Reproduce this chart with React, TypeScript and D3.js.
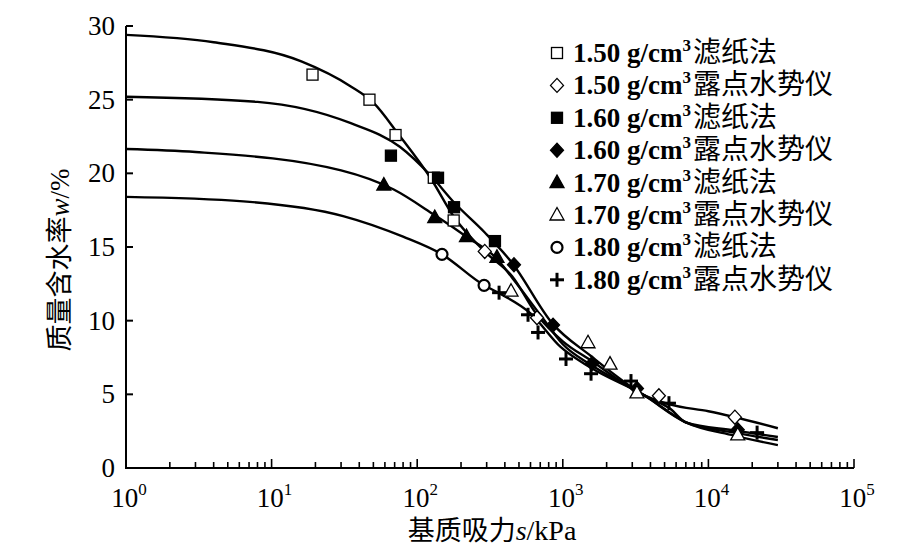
import React from 'react';
import * as d3 from 'd3';

// 拟合曲线 [s (kPa), w (%)]
const fit150: [number, number][] = [[1, 29.4], [4, 28.9], [16, 27.6], [35, 25.9], [50, 24.8], [75, 22.6], [125, 19.6], [180, 17.0], [290, 14.7], [450, 13.0], [665, 10.4], [1000, 8.6], [1560, 7.3], [3600, 4.95], [5500, 4.3], [10000, 3.85], [30000, 2.7]];
const fit160: [number, number][] = [[1, 25.2], [8, 24.85], [35, 23.4], [76, 21.8], [125, 19.8], [180, 18.0], [290, 16.0], [450, 13.9], [850, 9.8], [1560, 7.6], [3600, 4.95], [5500, 4.0], [7000, 3.1], [15000, 2.55], [30000, 2.1]];
const fit170: [number, number][] = [[1, 21.65], [3, 21.45], [30, 20.2], [69, 18.9], [130, 17.2], [218, 15.7], [353, 14.2], [450, 12.9], [700, 10.4], [1000, 8.4], [1560, 7.0], [3600, 4.95], [7000, 3.1], [15000, 2.4], [30000, 1.9]];
const fit180: [number, number][] = [[1, 18.4], [6.4, 18.1], [31, 17.1], [80, 15.7], [148, 14.5], [288, 12.4], [360, 11.9], [600, 10.5], [970, 8.2], [1560, 6.8], [3600, 4.95], [7000, 3.1], [15000, 2.2], [30000, 1.55]];

// 实测点
const pts150Filter: [number, number][] = [[19.1, 26.7], [47, 25.0], [71, 22.6], [130, 19.7], [178, 16.8]];
const pts150Dew: [number, number][] = [[291, 14.7], [665, 10.2], [4570, 4.9], [15200, 3.45]];
const pts160Filter: [number, number][] = [[66, 21.2], [139, 19.7], [179, 17.7], [342, 15.4]];
const pts160Dew: [number, number][] = [[462, 13.8], [857, 9.7], [1590, 7.1], [3230, 5.4], [15900, 2.6]];
const pts170Filter: [number, number][] = [[59, 19.2], [132, 17.0], [218, 15.7], [353, 14.3]];
const pts170Dew: [number, number][] = [[441, 12.0], [1490, 8.5], [2110, 7.05], [3230, 5.1], [15900, 2.25]];
const pts180Filter: [number, number][] = [[148, 14.5], [288, 12.4]];
const pts180Dew: [number, number][] = [[365, 11.9], [577, 10.4], [676, 9.2], [1052, 7.4], [1563, 6.4], [2940, 5.9], [5360, 4.4], [21600, 2.4]];

const densities = ['1.50', '1.60', '1.70', '1.80'];
const methods = ['滤纸法', '露点水势仪'];
const yTicks = [0, 5, 10, 15, 20, 25, 30];
const xDecades = [0, 1, 2, 3, 4, 5];

type Shape = 'square' | 'diamond' | 'triangle' | 'circle' | 'plus';

const series: { d: number; m: number; shape: Shape; filled: boolean; pts: [number, number][] }[] = [
  { d: 0, m: 0, shape: 'square', filled: false, pts: pts150Filter },
  { d: 0, m: 1, shape: 'diamond', filled: false, pts: pts150Dew },
  { d: 1, m: 0, shape: 'square', filled: true, pts: pts160Filter },
  { d: 1, m: 1, shape: 'diamond', filled: true, pts: pts160Dew },
  { d: 2, m: 0, shape: 'triangle', filled: true, pts: pts170Filter },
  { d: 2, m: 1, shape: 'triangle', filled: false, pts: pts170Dew },
  { d: 3, m: 0, shape: 'circle', filled: false, pts: pts180Filter },
  { d: 3, m: 1, shape: 'plus', filled: false, pts: pts180Dew },
];

const fits = [fit150, fit160, fit170, fit180];

const SERIF = '"Liberation Serif", "Times New Roman", serif';
const CJK = '"Noto Sans CJK SC", sans-serif';

const Marker: React.FC<{ x: number; y: number; shape: Shape; filled: boolean }> = ({ x, y, shape, filled }) => {
  const fill = filled ? '#000' : '#fff';
  if (shape === 'square')
    return <rect x={x - 5.5} y={y - 5.5} width={11} height={11} fill={fill} stroke="#000" strokeWidth={1.3} />;
  if (shape === 'diamond')
    return <path d={`M${x},${y - 7}L${x + 6.5},${y}L${x},${y + 7}L${x - 6.5},${y}Z`} fill={fill} stroke="#000" strokeWidth={1.3} />;
  if (shape === 'triangle')
    return <path d={`M${x},${y - 7.5}L${x + 7},${y + 5}L${x - 7},${y + 5}Z`} fill={fill} stroke="#000" strokeWidth={1.3} />;
  if (shape === 'circle')
    return <circle cx={x} cy={y} r={5.5} fill="#fff" stroke="#000" strokeWidth={2.2} />;
  return (
    <g stroke="#000" strokeWidth={3}>
      <line x1={x - 7} x2={x + 7} y1={y} y2={y} />
      <line x1={x} x2={x} y1={y - 7} y2={y + 7} />
    </g>
  );
};

const App: React.FC = () => {
  const x = d3.scaleLog().domain([1, 1e5]).range([126, 854]);
  const y = d3.scaleLinear().domain([0, 30]).range([468, 26]);

  const line = d3.line<[number, number]>()
    .x(d => x(d[0]))
    .y(d => y(d[1]))
    .curve(d3.curveMonotoneX);

  const minor: number[] = [];
  xDecades.slice(0, -1).forEach(k => {
    for (let i = 2; i < 10; i++) minor.push(i * Math.pow(10, k));
  });

  return (
    <svg width={913} height={560} style={{ position: 'absolute', left: 0, top: 0, background: '#fff' }}>
      {/* axes */}
      <g stroke="#000" strokeWidth={2} fill="none">
        <line x1={x(1)} x2={x(1)} y1={y(0) + 1} y2={y(30)} />
        <line x1={x(1) - 1} x2={x(1e5)} y1={y(0)} y2={y(0)} />
        {yTicks.map(t => (
          <line key={'yt' + t} x1={x(1)} x2={x(1) + 7} y1={y(t)} y2={y(t)} />
        ))}
        {xDecades.map(k => (
          <line key={'xt' + k} x1={x(Math.pow(10, k))} x2={x(Math.pow(10, k))} y1={y(0)} y2={y(0) - 9} strokeWidth={1.6} />
        ))}
        {minor.map(v => (
          <line key={'xm' + v} x1={x(v)} x2={x(v)} y1={y(0)} y2={y(0) - 6} strokeWidth={1.6} />
        ))}
      </g>
      {yTicks.map(t => (
        <text key={'yl' + t} x={115} y={y(t) + 9} textAnchor="end" fontFamily={SERIF} fontSize={27}>{t}</text>
      ))}
      {xDecades.map(k => (
        <text key={'xl' + k} x={x(Math.pow(10, k)) + 3} y={507} textAnchor="middle" fontFamily={SERIF} fontSize={27}>
          10<tspan fontSize={17} dy={-12}>{k}</tspan>
        </text>
      ))}

      {/* fitted curves */}
      {fits.map((f, i) => (
        <path key={'fit' + i} d={line(f) || ''} fill="none" stroke="#000" strokeWidth={2.4} />
      ))}

      {/* data points */}
      {series.map((s, i) => (
        <g key={'s' + i}>
          {s.pts.map((p, j) => (
            <Marker key={j} x={x(p[0])} y={y(p[1])} shape={s.shape} filled={s.filled} />
          ))}
        </g>
      ))}

      {/* legend */}
      {series.map((s, i) => {
        const cy = 53 + i * 32.4;
        return (
          <g key={'lg' + i}>
            <Marker x={557} y={cy} shape={s.shape} filled={s.filled} />
            <text x={573} y={cy + 9} fontFamily={SERIF} fontSize={27} fontWeight="bold">
              {densities[s.d]} g/cm<tspan fontSize={17} dy={-11}>3</tspan>
              <tspan dy={11} dx={2} fontFamily={CJK} fontSize={28} fontWeight="normal">{methods[s.m]}</tspan>
            </text>
          </g>
        );
      })}

      {/* axis titles */}
      <text transform="translate(69,260) rotate(-90)" textAnchor="middle">
        <tspan fontFamily={CJK} fontSize={27}>质量含水率</tspan>
        <tspan fontFamily={SERIF} fontSize={27} fontStyle="italic">w</tspan>
        <tspan fontFamily={SERIF} fontSize={27}>/%</tspan>
      </text>
      <text x={492} y={540} textAnchor="middle">
        <tspan fontFamily={CJK} fontSize={27}>基质吸力</tspan>
        <tspan fontFamily={SERIF} fontSize={28} fontStyle="italic">s</tspan>
        <tspan fontFamily={SERIF} fontSize={28}>/kPa</tspan>
      </text>
    </svg>
  );
};

export default App;
